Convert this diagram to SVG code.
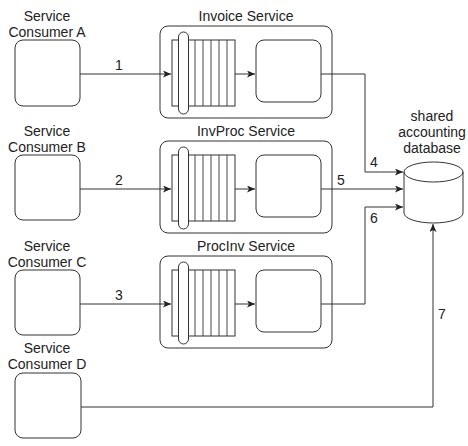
<svg xmlns="http://www.w3.org/2000/svg" width="468" height="446" viewBox="0 0 468 446">
<defs>
<style>
text{font-family:"Liberation Sans",Arial,sans-serif;font-size:14px;fill:#222}
.c{text-anchor:middle}
.box{fill:#fff;stroke:#333;stroke-width:1}
.ln{fill:none;stroke:#333;stroke-width:1}
.q{fill:none;stroke:#333;stroke-width:0.9}
</style>
<marker id="ah" markerWidth="9" markerHeight="8" refX="8" refY="3.5" orient="auto" markerUnits="userSpaceOnUse">
<path d="M0,0 L8,3.5 L0,7 L2,3.5 Z" fill="#222"/>
</marker>
<g id="svc">
<rect class="box" x="160" y="26" width="172" height="92" rx="8"/>
<rect class="box" x="172" y="40" width="63" height="66"/>
<path class="q" d="M195,40V106M203,40V106M211,40V106M219,40V106M227,40V106"/>
<rect class="box" x="178.5" y="32" width="10" height="82" rx="5"/>
<rect class="box" x="256" y="40" width="65" height="62" rx="8"/>
<path class="ln" d="M235,74H255" marker-end="url(#ah)"/>
</g>
</defs>

<g id="consumerA">
<rect class="box" x="15" y="40" width="65" height="66" rx="8"/>
<text class="c" x="47" y="21">Service</text>
<text class="c" x="47" y="37">Consumer A</text>
</g>
<g id="consumerB">
<rect class="box" x="15" y="155" width="65" height="65" rx="8"/>
<text class="c" x="47" y="136">Service</text>
<text class="c" x="47" y="152">Consumer B</text>
</g>
<g id="consumerC">
<rect class="box" x="15" y="270" width="65" height="65" rx="8"/>
<text class="c" x="47" y="251">Service</text>
<text class="c" x="47" y="267">Consumer C</text>
</g>
<g id="consumerD">
<rect class="box" x="15" y="373" width="66" height="65" rx="8"/>
<text class="c" x="47" y="353">Service</text>
<text class="c" x="47" y="369">Consumer D</text>
</g>

<g id="invoiceService">
<use href="#svc"/>
<text class="c" x="246" y="21">Invoice Service</text>
</g>
<g id="invProcService">
<use href="#svc" transform="translate(0,115)"/>
<text class="c" x="246" y="136">InvProc Service</text>
</g>
<g id="procInvService">
<use href="#svc" transform="translate(0,230)"/>
<text class="c" x="246" y="251">ProcInv Service</text>
</g>

<g id="database">
<path class="box" d="M404,172 A29.5,10 0 0 1 463,172 V213 A29.5,10 0 0 1 404,213 Z"/>
<path class="ln" d="M404,172 A29.5,10 0 0 0 463,172"/>
<text class="c" x="432" y="121">shared</text>
<text class="c" x="432" y="137">accounting</text>
<text class="c" x="432" y="153">database</text>
</g>

<g id="connectors">
<path class="ln" d="M80,74H171" marker-end="url(#ah)"/>
<path class="ln" d="M80,189H171" marker-end="url(#ah)"/>
<path class="ln" d="M80,304H171" marker-end="url(#ah)"/>
<path class="ln" d="M321,74H365V172H403" marker-end="url(#ah)"/>
<path class="ln" d="M321,189H403" marker-end="url(#ah)"/>
<path class="ln" d="M321,304H365V207H403" marker-end="url(#ah)"/>
<path class="ln" d="M81,407H433V224" marker-end="url(#ah)"/>
<text x="115" y="70">1</text>
<text x="115" y="185">2</text>
<text x="115" y="300">3</text>
<text x="370" y="167">4</text>
<text x="337" y="185">5</text>
<text x="370" y="223">6</text>
<text x="438" y="319">7</text>
</g>
</svg>
